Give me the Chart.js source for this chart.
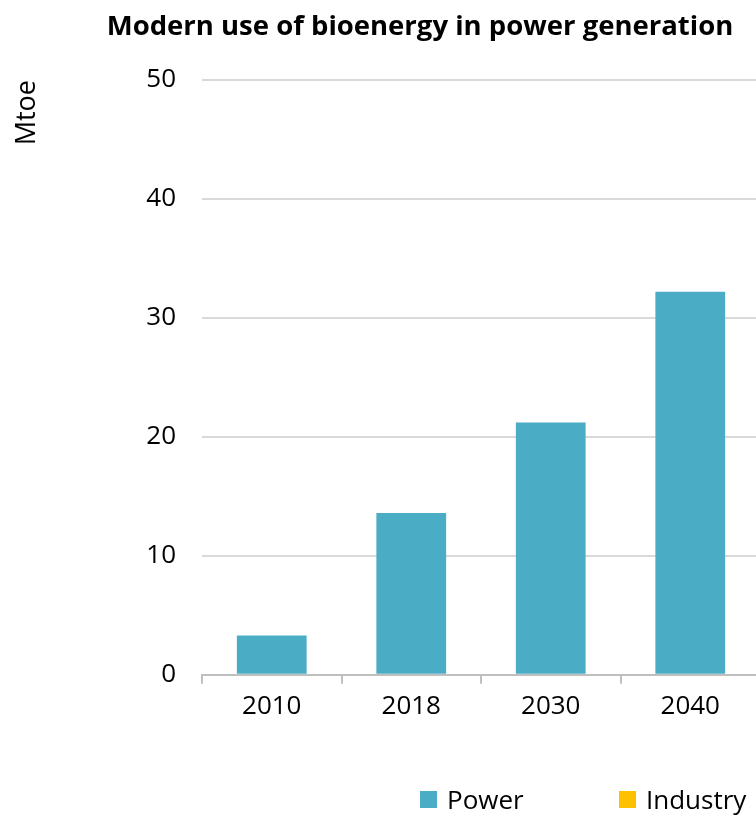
<!DOCTYPE html>
<html>
<head>
<meta charset="utf-8">
<script src="https://cdn.jsdelivr.net/npm/chart.js@4/dist/chart.umd.min.js"></script>
<style>
  html, body { margin: 0; padding: 0; background: #fff; overflow: hidden; }
  #wrap { position: relative; width: 756px; height: 815px; overflow: hidden; }
  #c { position: absolute; left: 0; top: 0; }
  .title { position: absolute; left: 0; width: 840px; top: 8px; text-align: center;
           font-family: 'Open Sans', sans-serif; font-weight: bold; font-size: 27.5px; line-height: 33px; color: #000; }
  .legend { position: absolute; top: 781px; left: 0; font-family: 'Open Sans', sans-serif; font-size: 26px; color: #000; }
  .legend .item { position: absolute; white-space: nowrap; display: flex; align-items: center; }
  .legend .box { width: 17px; height: 17px; margin-right: 10px; }
</style>
</head>
<body>
<div id="wrap">
  <canvas id="c" width="840" height="815"></canvas>
  <div class="title">Modern use of bioenergy in power generation</div>
  <div class="legend" id="legend"></div>
</div>
<script>
/* Modern use of bioenergy in power generation */

// ── Data ─────────────────────────────────────────────────────────────────
const years    = ['2010', '2018', '2030', '2040'];
const power    = [3.3, 13.6, 21.2, 32.2];
const industry = [null, null, null, null];   // no industry bars in this panel

const FONT = "'Open Sans', sans-serif";
const COLORS = { power: '#4bacc6', industry: '#ffc000' };

const ctx = document.getElementById('c').getContext('2d');
const chart = new Chart(ctx, {
    type: 'bar',
    data: {
        labels: years,
        datasets: [
            { label: 'Power',    data: power,    backgroundColor: COLORS.power,    grouped: false,
              barPercentage: 1, categoryPercentage: 0.5 },
            { label: 'Industry', data: industry, backgroundColor: COLORS.industry, grouped: false,
              barPercentage: 1, categoryPercentage: 0.5 }
        ]
    },
    options: {
        responsive: false,
        animation: false,
        layout: { padding: { left: 0, right: 80, top: 80, bottom: 86 } },
        plugins: {
            legend: { display: false },
            tooltip: { enabled: false },
            title: { display: false }
        },
        scales: {
            x: {
                grid: {
                    display: true, drawOnChartArea: false, drawTicks: true,
                    tickLength: 9, color: '#bfbfbf', lineWidth: 2, offset: true
                },
                border: { display: true, color: '#bfbfbf', width: 2 },
                ticks: { color: '#000', padding: 7, font: { family: FONT, size: 26 } }
            },
            y: {
                min: 0, max: 50,
                ticks: { stepSize: 10, color: '#000', padding: 26, font: { family: FONT, size: 26 } },
                grid: { color: '#d9d9d9', lineWidth: 2, drawTicks: false },
                border: { display: false },
                title: {
                    display: true, text: 'Mtoe', align: 'end', color: '#000',
                    font: { family: FONT, size: 27 }, padding: { top: 11, bottom: 0 }
                },
                afterFit: scale => { scale.width = 202; }
            }
        }
    }
});

// ── HTML legend built from the datasets ──────────────────────────────────
const legendPos = [420, 619];
const legendEl = document.getElementById('legend');
chart.data.datasets.forEach((ds, i) => {
    const item = document.createElement('div');
    item.className = 'item';
    item.style.left = legendPos[i] + 'px';
    item.innerHTML = `<span class="box" style="background:${ds.backgroundColor}"></span><span>${ds.label}</span>`;
    legendEl.appendChild(item);
});
</script>
</body>
</html>
